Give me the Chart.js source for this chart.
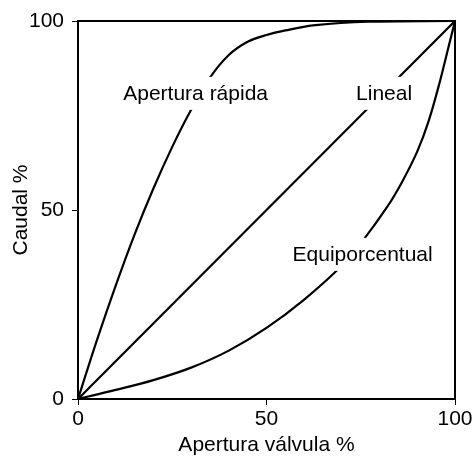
<!DOCTYPE html>
<html>
<head>
<meta charset="utf-8">
<script src="https://cdn.jsdelivr.net/npm/chart.js@4/dist/chart.umd.min.js"></script>
<style>
  html, body { margin: 0; padding: 0; background: #fff; }
</style>
</head>
<body>
<canvas id="chart" width="475" height="457"></canvas>
<script>
// valve opening % (x) vs flow % (y)
const rapidaX = [0, 5, 10, 15, 20, 25, 30, 35, 40, 45, 50, 55, 63, 77, 100];
const rapidaY = [0, 15.5, 30, 43.5, 55.7, 66.7, 76.5, 85, 91, 94.5, 96.3, 97.5, 98.9, 99.8, 100];

const linealX = [0, 100];
const linealY = [0, 100];

const equiX = [0, 10, 20, 30, 40, 50, 60, 70, 76, 82, 86, 90, 93, 96, 98, 100];
const equiY = [0, 2.4, 5, 8.3, 12.8, 18.8, 26.3, 35.3, 42.5, 50.8, 57.5, 65.5, 73.5, 84, 92, 100];

const tickValues = [0, 50, 100];

// curve names, written inside the plot
const curveNames = ["Apertura rápida", "Lineal", "Equiporcentual"];
const namePosX = [31.2, 81.2, 75.5];
const namePosY = [81, 81, 38.4];

const FONT = "'Liberation Sans', Arial, Helvetica, sans-serif";
const FONT_SIZE = 21;

const toPoints = (xs, ys) => xs.map((x, i) => ({ x: x, y: ys[i] }));

const lineStyle = {
  borderColor: "#000",
  borderWidth: 2.2,
  pointRadius: 0,
  fill: false,
  tension: 0.35,
};

// frame on top and right plus the curve names with white boxes
const framePlugin = {
  id: "frame",
  afterDatasetsDraw(chart) {
    const { ctx, chartArea, scales } = chart;
    ctx.save();
    ctx.font = FONT_SIZE + "px " + FONT;
    ctx.textAlign = "left";
    ctx.textBaseline = "middle";
    curveNames.forEach((name, i) => {
      const cx = scales.x.getPixelForValue(namePosX[i]);
      const cy = scales.y.getPixelForValue(namePosY[i]);
      const w = ctx.measureText(name).width;
      ctx.fillStyle = "#fff";
      ctx.fillRect(cx - w / 2 - 3, cy - 16, w + 6, 33);
      ctx.fillStyle = "#000";
      ctx.fillText(name, cx - w / 2, cy + 1);
    });
    ctx.strokeStyle = "#000";
    ctx.lineWidth = 2;
    ctx.strokeRect(chartArea.left, chartArea.top, chartArea.right - chartArea.left, chartArea.bottom - chartArea.top);
    ctx.restore();
  },
};

const axisCommon = {
  type: "linear",
  min: 0,
  max: 100,
  border: { display: true, color: "#000", width: 2 },
  grid: { drawOnChartArea: false, drawTicks: true, tickLength: 6, color: "#000", lineWidth: 1 },
  afterBuildTicks: (axis) => {
    axis.ticks = tickValues.map((v) => ({ value: v }));
  },
};

new Chart(document.getElementById("chart"), {
  type: "line",
  data: {
    datasets: [
      Object.assign({ label: "Apertura rápida", data: toPoints(rapidaX, rapidaY) }, lineStyle),
      Object.assign({ label: "Lineal", data: toPoints(linealX, linealY) }, lineStyle, { tension: 0 }),
      Object.assign({ label: "Equiporcentual", data: toPoints(equiX, equiY) }, lineStyle),
    ],
  },
  options: {
    responsive: false,
    animation: false,
    devicePixelRatio: 1,
    layout: { padding: { top: 21, right: 20, left: 0, bottom: 0 } },
    plugins: {
      legend: { display: false },
      tooltip: { enabled: false },
    },
    scales: {
      x: Object.assign({}, axisCommon, {
        position: "bottom",
        ticks: { color: "#000", font: { family: FONT, size: FONT_SIZE }, padding: 2, maxRotation: 0 },
        title: {
          display: true,
          text: "Apertura válvula %",
          color: "#000",
          font: { family: FONT, size: FONT_SIZE, lineHeight: 1 },
          padding: { top: 0, bottom: 1 },
        },
        afterFit: (axis) => { axis.height = 58; },
      }),
      y: Object.assign({}, axisCommon, {
        position: "left",
        ticks: { color: "#000", font: { family: FONT, size: FONT_SIZE }, padding: 8 },
        title: {
          display: true,
          text: "Caudal %",
          color: "#000",
          font: { family: FONT, size: FONT_SIZE, lineHeight: 1 },
          padding: { top: 11, bottom: 0 },
        },
        afterFit: (axis) => { axis.width = 78; },
      }),
    },
  },
  plugins: [framePlugin],
});
</script>
</body>
</html>
